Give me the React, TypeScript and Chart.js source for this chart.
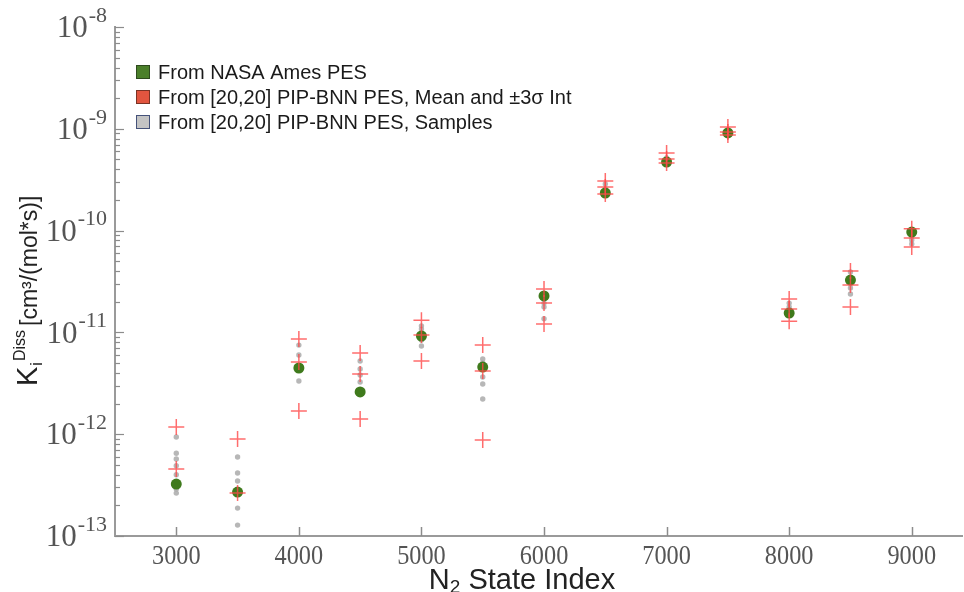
import React, { useEffect, useRef } from "react";
import { Chart, registerables } from "chart.js";

Chart.register(...registerables);

// N2 state index categories
const stateIndex = [3000, 3500, 4000, 4500, 5000, 5500, 6000, 6500, 7000, 7500, 8000, 8500, 9000];

// From NASA Ames PES
const amesRates = [3.24e-13, 2.7e-13, 4.47e-12, 2.6e-12, 9.22e-12, 4.57e-12, 2.28e-11, 2.34e-10, 4.72e-10, 9.1e-10, 1.55e-11, 3.27e-11, 9.68e-11];

// From [20,20] PIP-BNN PES: mean and +-3 sigma
const bnnMean = [4.55e-13, 2.64e-13, 5.12e-12, 3.9e-12, 9.42e-12, 4.17e-12, 1.94e-11, 2.68e-10, 5.05e-10, 9.31e-10, 1.7e-11, 2.92e-11, 8.46e-11];
const bnnUpper = [1.18e-12, 8.97e-13, 8.6e-12, 6.28e-12, 1.32e-11, 7.51e-12, 2.67e-11, 3.07e-10, 5.78e-10, 1.04e-9, 2.13e-11, 4.01e-11, 1.04e-10];
const bnnLower: (number | null)[] = [null, null, 1.69e-12, 1.41e-12, 5.24e-12, 8.77e-13, 1.21e-11, 2.29e-10, 4.61e-10, 8.69e-10, 1.29e-11, 1.78e-11, 6.9e-11];

// From [20,20] PIP-BNN PES: samples
const bnnSamples: number[][] = [
  [9.4e-13, 6.5e-13, 5.7e-13, 4.9e-13, 4.0e-13, 2.9e-13, 2.64e-13],
  [5.97e-13, 4.16e-13, 3.47e-13, 2.77e-13, 1.88e-13, 1.28e-13],
  [7.5e-12, 6.0e-12, 4.57e-12, 3.33e-12],
  [5.24e-12, 4.37e-12, 3.82e-12, 3.26e-12],
  [1.16e-11, 1.08e-11, 8.4e-12, 7.35e-12],
  [5.48e-12, 5.0e-12, 3.65e-12, 3.11e-12, 2.22e-12],
  [2.28e-11, 1.94e-11, 1.78e-11, 1.36e-11],
  [2.87e-10, 2.56e-10],
  [5.16e-10, 4.83e-10],
  [9.8e-10, 9.3e-10],
  [1.94e-11, 1.78e-11, 1.66e-11],
  [3.92e-11, 3.27e-11, 2.73e-11, 2.38e-11],
  [8.85e-11, 8.09e-11, 7.38e-11],
];

const xTickValues = [3000, 4000, 5000, 6000, 7000, 8000, 9000];
const xTickLabels = ["3000", "4000", "5000", "6000", "7000", "8000", "9000"];
const yDecadeExponents = [-13, -12, -11, -10, -9, -8];

const labelAmes = "From NASA Ames PES";
const labelMean = "From [20,20] PIP-BNN PES, Mean and \u00b13\u03c3 Int";
const labelSamples = "From [20,20] PIP-BNN PES, Samples";

const legendEntries = [
  { label: labelAmes, fill: "#4b7f2a", stroke: "#2e4a1e" },
  { label: labelMean, fill: "#e2553f", stroke: "#7a3325" },
  { label: labelSamples, fill: "#c4c4c4", stroke: "#45527a" },
];

const customPlugin = {
  id: "customDecor",
  afterDraw(chart: any) {
    const ctx = chart.ctx as CanvasRenderingContext2D;
    const xs = chart.scales.x;
    const ys = chart.scales.y;
    const area = chart.chartArea;
    ctx.save();

    // y ticks (inside)
    ctx.strokeStyle = "#8c8c8c";
    ctx.lineWidth = 1.2;
    for (let e = -13; e <= -8; e++) {
      for (let m = 1; m <= 9; m++) {
        if (e === -8 && m > 1) break;
        const v = m * Math.pow(10, e);
        const py = Math.round(ys.getPixelForValue(v)) + 0.5;
        const len = m === 1 ? 9 : 5;
        ctx.beginPath();
        ctx.moveTo(area.left, py);
        ctx.lineTo(area.left + len, py);
        ctx.stroke();
      }
    }
    // x ticks (inside)
    ctx.lineWidth = 1.5;
    for (const v of xTickValues) {
      const px = Math.round(xs.getPixelForValue(v)) + 0.5;
      ctx.beginPath();
      ctx.moveTo(px, area.bottom);
      ctx.lineTo(px, area.bottom - 9);
      ctx.stroke();
    }

    // x tick labels (condensed serif)
    ctx.fillStyle = "#555555";
    ctx.textBaseline = "alphabetic";
    ctx.textAlign = "center";
    ctx.font = '27px "Liberation Serif"';
    xTickValues.forEach((v, i) => {
      const px = xs.getPixelForValue(v);
      ctx.save();
      ctx.translate(px, 564);
      ctx.scale(0.9, 1);
      ctx.fillText(xTickLabels[i], 0, 0);
      ctx.restore();
    });

    // y tick labels: 10^e
    ctx.textBaseline = "middle";
    ctx.textAlign = "left";
    const rightEdge = 107;
    for (const e of yDecadeExponents) {
      const py = ys.getPixelForValue(Math.pow(10, e));
      const expText = "-" + String(-e);
      ctx.font = '22px "Liberation Serif"';
      const ew = ctx.measureText(expText).width;
      ctx.font = '31px "Liberation Serif"';
      const bw = ctx.measureText("10").width;
      const x0 = rightEdge - ew - bw - 1;
      ctx.fillText("10", x0, py + 2);
      ctx.font = '22px "Liberation Serif"';
      ctx.fillText(expText, x0 + bw + 1, py - 11);
    }

    // x axis title: N2 State Index
    ctx.fillStyle = "#222222";
    ctx.textBaseline = "alphabetic";
    const big = 29;
    const small = 19;
    ctx.font = `${big}px "Liberation Sans"`;
    const nW = ctx.measureText("N").width;
    ctx.font = `${small}px "Liberation Sans"`;
    const twoW = ctx.measureText("2").width;
    ctx.font = `${big}px "Liberation Sans"`;
    const restW = ctx.measureText(" State Index").width;
    const total = nW + twoW + restW;
    const tx = 522 - total / 2;
    const ty = 589;
    ctx.fillText("N", tx, ty);
    ctx.font = `${small}px "Liberation Sans"`;
    ctx.fillText("2", tx + nW, ty + 4);
    ctx.font = `${big}px "Liberation Sans"`;
    ctx.fillText(" State Index", tx + nW + twoW, ty);

    // y axis title: K_i^Diss [cm3/(mol*s)]
    ctx.save();
    ctx.translate(37, 386);
    ctx.rotate(-Math.PI / 2);
    ctx.font = '29px "Liberation Sans"';
    const kW = ctx.measureText("K").width;
    ctx.fillText("K", 0, 0);
    ctx.font = '16px "Liberation Sans"';
    const iW = ctx.measureText("i").width;
    ctx.fillText("i", kW + 1, 5);
    const dW = ctx.measureText("Diss").width;
    ctx.fillText("Diss", kW + iW + 2, -12);
    ctx.font = '23px "Liberation Sans"';
    ctx.fillText("[cm\u00b3/(mol*s)]", kW + iW + 2 + dW + 4, 0);
    ctx.restore();

    // legend
    const boxX = 136;
    const rows = [72, 97, 122];
    legendEntries.forEach((entry, i) => {
      const cy = rows[i];
      ctx.fillStyle = entry.fill;
      ctx.fillRect(boxX, cy - 7, 14, 14);
      ctx.strokeStyle = entry.stroke;
      ctx.lineWidth = 1;
      ctx.strokeRect(boxX + 0.5, cy - 6.5, 13, 13);
      ctx.fillStyle = "#1a1a1a";
      ctx.font = '20px "Liberation Sans"';
      ctx.textBaseline = "middle";
      ctx.textAlign = "left";
      ctx.fillText(entry.label, 158, cy + 1);
    });

    ctx.restore();
  },
};

export default function App() {
  const canvasRef = useRef<HTMLCanvasElement | null>(null);

  useEffect(() => {
    if (!canvasRef.current) return;

    const meanPoints: { x: number; y: number }[] = [];
    stateIndex.forEach((x, i) => {
      meanPoints.push({ x, y: bnnUpper[i] });
      meanPoints.push({ x, y: bnnMean[i] });
      const lo = bnnLower[i];
      if (lo !== null) meanPoints.push({ x, y: lo });
    });
    const amesPoints = stateIndex.map((x, i) => ({ x, y: amesRates[i] }));
    const samplePoints: { x: number; y: number }[] = [];
    stateIndex.forEach((x, i) => {
      bnnSamples[i].forEach((v) => samplePoints.push({ x, y: v }));
    });

    const chart = new Chart(canvasRef.current, {
      type: "scatter",
      data: {
        datasets: [
          {
            label: labelMean,
            data: meanPoints,
            pointStyle: "cross",
            pointRadius: 8,
            borderColor: "rgba(255,72,72,0.8)",
            borderWidth: 1.5,
            backgroundColor: "rgba(255,72,72,0.8)",
            order: 0,
          },
          {
            label: labelAmes,
            data: amesPoints,
            pointStyle: "circle",
            pointRadius: 5.5,
            backgroundColor: "#3f7a1c",
            borderColor: "#3f7a1c",
            borderWidth: 0,
            order: 1,
          },
          {
            label: labelSamples,
            data: samplePoints,
            pointStyle: "circle",
            pointRadius: 2.7,
            backgroundColor: "rgba(170,170,170,0.85)",
            borderColor: "rgba(170,170,170,0.85)",
            borderWidth: 0,
            order: 2,
          },
        ],
      },
      options: {
        responsive: false,
        devicePixelRatio: 1,
        animation: false,
        layout: { autoPadding: false, padding: { top: 27, right: 2, left: 0, bottom: 0 } },
        plugins: {
          legend: { display: false },
          tooltip: { enabled: false },
          title: { display: false },
        },
        scales: {
          x: {
            type: "linear",
            min: 2500,
            max: 9410,
            grid: { display: false },
            border: { display: true, color: "#9a9a9a", width: 2 },
            ticks: { display: false },
            afterBuildTicks: (s: any) => {
              s.ticks = xTickValues.map((v) => ({ value: v }));
            },
            afterFit: (s: any) => {
              s.height = 56;
              s.paddingLeft = 0;
              s.paddingRight = 0;
            },
          },
          y: {
            type: "logarithmic",
            min: 1e-13,
            max: 1e-8,
            grid: { display: false },
            border: { display: true, color: "#9a9a9a", width: 2 },
            ticks: { display: false },
            afterFit: (s: any) => {
              s.width = 115;
              s.paddingTop = 0;
              s.paddingBottom = 0;
            },
          },
        },
      } as any,
      plugins: [customPlugin],
    });

    return () => chart.destroy();
  }, []);

  return (
    <div style={{ position: "absolute", left: 0, top: 0, width: 964, height: 592, background: "#ffffff" }}>
      <canvas ref={canvasRef} width={964} height={592} style={{ display: "block" }} />
    </div>
  );
}
